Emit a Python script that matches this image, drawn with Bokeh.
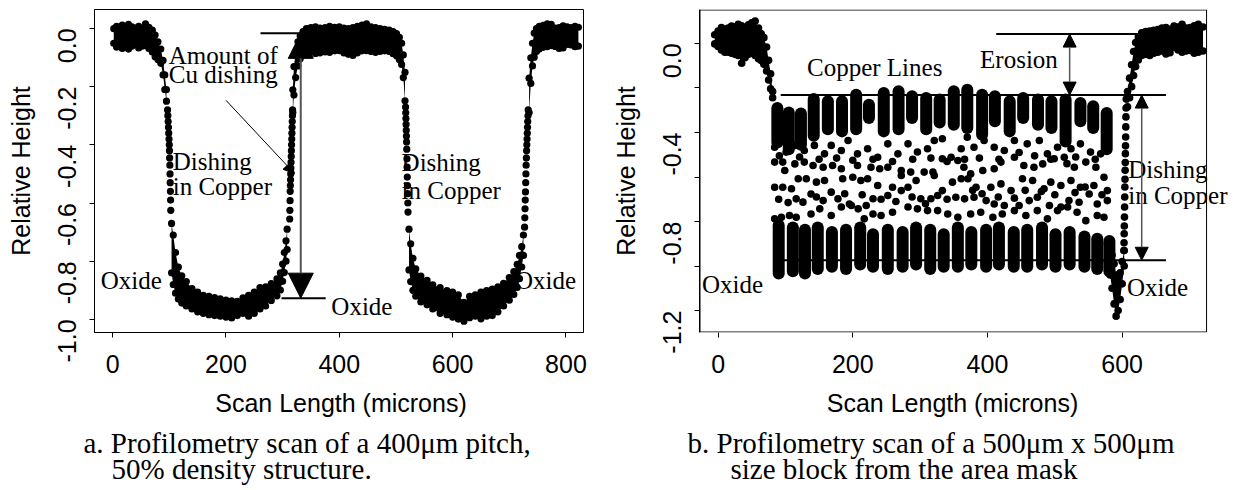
import math
from bokeh.plotting import figure
from bokeh.layouts import row, column
from bokeh.models import Label, Arrow, NormalHead, FixedTicker, PrintfTickFormatter, Range1d, BoxAnnotation
from bokeh.embed import file_html
from bokeh.resources import INLINE

SANS = "Liberation Sans"
SERIF = "Liberation Serif"

# ======================= panel a : 400um pitch, 50% density =======================
a_x_ticks = [0, 200, 400, 600, 800]
a_y_ticks = [0.0, -0.2, -0.4, -0.6, -0.8, -1.0]

# plateau 1 (oxide), dot-centre envelopes
a_p1_x = [2, 7, 12, 17, 22, 28, 34, 40, 46, 52, 58, 64, 70, 75, 80, 85, 89, 92, 95]
a_p1_top = [-0.001, 0.007, 0.003, 0.011, 0.001, 0.014, 0.005, 0.001, 0.007, -0.001, 0.016, 0.004, -0.006, -0.023, -0.046, -0.071, -0.11, -0.16, -0.21]
a_p1_bot = [-0.051, -0.064, -0.059, -0.069, -0.057, -0.071, -0.061, -0.055, -0.067, -0.061, -0.059, -0.069, -0.081, -0.097, -0.107, -0.12, -0.16, -0.21, -0.25]
# wall down into trench 1
a_w1_x = [97, 97.5, 98, 98.5, 99, 99.5, 100, 100.3, 100.6, 101, 101.3, 101.6, 102, 102.3, 102.6]
a_w1_y = [-0.28, -0.30, -0.32, -0.34, -0.36, -0.38, -0.40, -0.42, -0.445, -0.47, -0.50, -0.53, -0.56, -0.59, -0.625]
# trench 1 (copper)
a_t1_x = [104, 107, 111, 116, 122, 130, 140, 150, 160, 170, 180, 190, 200, 210, 220, 230, 240, 250, 260, 270, 280, 290, 296, 300, 303, 306, 308]
a_t1_top = [-0.67, -0.71, -0.77, -0.82, -0.85, -0.87, -0.894, -0.906, -0.917, -0.921, -0.925, -0.929, -0.934, -0.936, -0.938, -0.926, -0.917, -0.906, -0.891, -0.888, -0.877, -0.861, -0.84, -0.81, -0.77, -0.73, -0.69]
a_t1_bot = [-0.84, -0.88, -0.91, -0.93, -0.944, -0.954, -0.964, -0.974, -0.979, -0.984, -0.987, -0.989, -0.992, -0.995, -0.987, -0.979, -0.989, -0.979, -0.964, -0.954, -0.935, -0.919, -0.899, -0.869, -0.839, -0.80, -0.76]
# wall up out of trench 1
a_w2_x = [312.5, 312.8, 313.1, 313.4, 313.7, 314, 314.3, 314.6, 314.9, 315.2, 315.5, 315.8, 316.1, 316.4, 316.7, 317, 317.3, 317.6]
a_w2_y = [-0.655, -0.625, -0.592, -0.56, -0.54, -0.52, -0.50, -0.48, -0.46, -0.44, -0.42, -0.40, -0.38, -0.36, -0.34, -0.32, -0.30, -0.28]
# plateau 2
a_p2_x = [318, 320, 323, 327, 331, 336, 342, 350, 358, 366, 375, 383, 392, 400, 408, 416, 424, 432, 440, 448, 456, 464, 472, 480, 488, 495, 501, 506, 510, 513, 516]
a_p2_top = [-0.211, -0.131, -0.081, -0.046, -0.026, -0.011, -0.001, 0.003, 0.005, 0.001, 0.003, 0.007, 0.004, 0.005, 0.001, -0.001, 0.003, 0.007, 0.011, 0.016, 0.005, 0.003, -0.001, -0.003, -0.006, -0.011, -0.018, -0.031, -0.051, -0.091, -0.151]
a_p2_bot = [-0.289, -0.229, -0.169, -0.129, -0.104, -0.089, -0.076, -0.081, -0.086, -0.084, -0.081, -0.082, -0.077, -0.076, -0.084, -0.089, -0.093, -0.084, -0.077, -0.076, -0.079, -0.082, -0.079, -0.077, -0.079, -0.087, -0.094, -0.107, -0.124, -0.169, -0.249]
# wall down into trench 2
a_w3_x = [517, 517.3, 517.6, 517.9, 518.2, 518.5, 518.8, 519.1, 519.4, 519.7, 520, 520.3, 520.6, 521, 521.3]
a_w3_y = [-0.27, -0.29, -0.31, -0.33, -0.35, -0.37, -0.39, -0.415, -0.448, -0.477, -0.511, -0.54, -0.568, -0.60, -0.631]
# trench 2
a_t2_x = [523, 526, 530, 535, 544, 555, 565, 578, 590, 600, 610, 620, 630, 640, 650, 660, 670, 680, 690, 700, 708, 714, 718, 722, 725]
a_t2_top = [-0.69, -0.74, -0.79, -0.826, -0.851, -0.866, -0.881, -0.891, -0.901, -0.906, -0.916, -0.941, -0.921, -0.916, -0.906, -0.901, -0.896, -0.888, -0.876, -0.856, -0.836, -0.811, -0.78, -0.75, -0.71]
a_t2_bot = [-0.83, -0.87, -0.90, -0.92, -0.94, -0.95, -0.964, -0.979, -0.984, -0.992, -0.999, -1.006, -0.994, -0.989, -0.998, -0.989, -0.987, -0.974, -0.954, -0.934, -0.914, -0.89, -0.86, -0.82, -0.78]
# wall up out of trench 2
a_w4_x = [727, 727.4, 727.8, 728.2, 728.6, 729, 729.4, 729.8, 730.2, 730.6, 731, 731.4, 731.8, 732.2, 732.6, 733, 733.4]
a_w4_y = [-0.683, -0.651, -0.62, -0.59, -0.562, -0.53, -0.50, -0.47, -0.445, -0.42, -0.40, -0.38, -0.36, -0.34, -0.32, -0.30, -0.28]
# plateau 3
a_p3_x = [735, 738, 741, 744, 748, 753, 760, 767, 774, 781, 788, 795, 802, 809, 816, 822]
a_p3_top = [-0.171, -0.101, -0.051, -0.016, -0.001, 0.007, 0.011, 0.016, 0.014, 0.001, 0.003, 0.009, 0.005, 0.003, 0.007, 0.004]
a_p3_bot = [-0.289, -0.189, -0.129, -0.099, -0.079, -0.071, -0.065, -0.063, -0.059, -0.062, -0.069, -0.067, -0.055, -0.057, -0.063, -0.061]

# annotation texts (left edge, baseline)
a_text = ["Amount of", "Cu dishing", "Dishing", "in Copper", "Dishing", "in Copper", "Oxide", "Oxide", "Oxide"]
a_text_x = [99, 99, 106, 106, 510, 510, -21, 386, 710]
a_text_y = [-0.121, -0.189, -0.487, -0.573, -0.490, -0.585, -0.894, -0.986, -0.894]

a_line_x0 = [261, 298]
a_line_x1 = [342, 376]
a_line_y = [-0.017, -0.927]

# ======================= panel b : 500um x 500um block =======================
b_x_ticks = [0, 200, 400, 600]
b_y_major = [0.0, -0.4, -0.8, -1.2]
b_y_minor = [-0.2, -0.6, -1.0]

b_p1_x = [-5, 0, 5, 10, 15, 20, 25, 30, 35, 40, 45, 50, 55, 60, 64, 68, 72, 75, 78, 81]
b_p1_top = [0.039, 0.056, 0.071, 0.063, 0.069, 0.078, 0.074, 0.086, 0.079, 0.071, 0.084, 0.093, 0.101, 0.069, 0.044, 0.026, -0.016, -0.076, -0.136, -0.216]
b_p1_bot = [-0.002, -0.014, -0.029, -0.039, -0.039, -0.044, -0.049, -0.054, -0.089, -0.064, -0.049, -0.044, -0.054, -0.069, -0.077, -0.094, -0.124, -0.164, -0.204, -0.244]

# copper line columns: upper runs and lower runs
b_col_x = [88, 105, 123, 142, 163, 184, 205, 224, 246, 268, 288, 309, 329, 350, 370, 392, 411, 433, 453, 475, 495, 516, 538, 557, 577]
b_up_hi = [-0.29, -0.31, -0.315, -0.25, -0.26, -0.26, -0.23, -0.275, -0.223, -0.215, -0.237, -0.245, -0.252, -0.215, -0.208, -0.23, -0.237, -0.26, -0.245, -0.252, -0.26, -0.252, -0.267, -0.282, -0.312]
b_up_lo = [-0.445, -0.475, -0.455, -0.415, -0.385, -0.395, -0.385, -0.335, -0.395, -0.385, -0.335, -0.385, -0.355, -0.365, -0.38, -0.41, -0.35, -0.395, -0.335, -0.365, -0.38, -0.44, -0.35, -0.38, -0.475]
b_low_x = [90, 111, 129, 148, 169, 190, 211, 230, 252, 274, 294, 315, 335, 356, 376, 398, 417, 439, 459, 481, 501, 522, 544, 563, 581]
b_low_hi = [-0.817, -0.827, -0.837, -0.827, -0.847, -0.837, -0.827, -0.857, -0.837, -0.847, -0.827, -0.837, -0.857, -0.827, -0.847, -0.837, -0.827, -0.847, -0.837, -0.827, -0.857, -0.847, -0.867, -0.877, -0.887]
b_low_lo = [-1.033, -1.023, -1.033, -1.013, -1.003, -1.013, -0.993, -1.003, -1.013, -1.003, -0.993, -1.013, -1.003, -1.003, -0.993, -1.003, -0.993, -1.003, -1.003, -0.993, -1.003, -0.993, -1.003, -1.013, -1.023]

# scattered samples between the line tops and the dished copper
b_mid_x = [84, 101, 114, 128, 143, 158, 168, 183, 193, 207, 222, 237, 252, 267, 282, 296, 311, 321, 333, 346, 361, 370,
           91, 121, 150, 176, 200, 230, 259, 289, 316, 340, 366, 388, 417, 447, 470, 494, 518, 531, 560,
           84, 96, 99, 114, 128, 141, 156, 170, 183, 207, 227, 240, 252, 272, 286, 306, 319, 333, 356, 365,
           84, 96, 109, 119, 131, 146, 158, 185, 200, 212, 222, 237, 259, 272, 282, 294, 321, 333, 348, 361,
           90, 104, 146, 188, 214, 242, 264, 288, 308, 340, 378, 392, 416, 440, 456, 480, 500, 530, 545, 570,
           116, 126, 138, 156, 168, 178, 195, 208, 220, 230, 252, 272, 301, 316, 326, 353, 366,
           84, 94, 106, 116, 138, 151, 168, 183, 198, 217, 230, 242, 259, 282, 296, 311, 326, 341, 356,
           380, 395, 410, 425, 440, 459, 477, 489, 504, 524, 538, 553, 568, 578,
           375, 393, 410, 420, 440, 454, 469, 482, 499, 514, 529, 546, 561, 573,
           371, 383, 405, 420, 435, 452, 467, 484, 494, 509, 524, 538, 558, 578,
           380, 398, 410, 425, 447, 462, 474, 492, 509, 521, 536, 551, 563, 578,
           375, 390, 408, 422, 440, 457, 474, 489, 504, 519, 533, 546, 563, 573]
b_mid_y = [-0.466, -0.488, -0.458, -0.481, -0.458, -0.496, -0.458, -0.481, -0.436, -0.496, -0.473, -0.511, -0.451, -0.496, -0.451, -0.488, -0.473, -0.436, -0.428, -0.511, -0.473, -0.421,
           -0.505, -0.51, -0.52, -0.515, -0.525, -0.52, -0.53, -0.52, -0.515, -0.53, -0.52, -0.515, -0.52, -0.49, -0.505, -0.52, -0.54, -0.51, -0.52,
           -0.533, -0.533, -0.571, -0.541, -0.533, -0.548, -0.556, -0.548, -0.563, -0.548, -0.556, -0.563, -0.556, -0.571, -0.578, -0.578, -0.578, -0.518, -0.526, -0.556,
           -0.646, -0.646, -0.653, -0.608, -0.608, -0.623, -0.616, -0.608, -0.601, -0.616, -0.608, -0.638, -0.646, -0.593, -0.646, -0.616, -0.593, -0.661, -0.623, -0.608,
           -0.70, -0.715, -0.69, -0.675, -0.68, -0.70, -0.71, -0.69, -0.72, -0.70, -0.66, -0.675, -0.69, -0.695, -0.66, -0.665, -0.68, -0.67, -0.645, -0.68,
           -0.698, -0.713, -0.676, -0.706, -0.668, -0.698, -0.721, -0.743, -0.728, -0.698, -0.683, -0.661, -0.698, -0.698, -0.683, -0.691, -0.698,
           -0.788, -0.781, -0.773, -0.781, -0.766, -0.743, -0.773, -0.735, -0.728, -0.788, -0.766, -0.773, -0.758, -0.735, -0.743, -0.751, -0.751, -0.766, -0.781,
           -0.466, -0.436, -0.466, -0.481, -0.436, -0.451, -0.436, -0.496, -0.466, -0.473, -0.451, -0.488, -0.496, -0.466,
           -0.586, -0.571, -0.563, -0.533, -0.511, -0.548, -0.556, -0.541, -0.518, -0.511, -0.556, -0.533, -0.556, -0.601,
           -0.608, -0.646, -0.646, -0.631, -0.661, -0.608, -0.616, -0.653, -0.623, -0.638, -0.616, -0.646, -0.638, -0.661,
           -0.691, -0.706, -0.721, -0.728, -0.728, -0.706, -0.691, -0.728, -0.735, -0.706, -0.713, -0.676, -0.721, -0.706,
           -0.766, -0.758, -0.781, -0.766, -0.751, -0.773, -0.751, -0.788, -0.751, -0.735, -0.758, -0.796, -0.773, -0.781]

# oxide dip at the right edge of the block
b_dip_x = [578, 582, 585, 588, 591, 594, 597, 600, 603]
b_dip_top = [-0.90, -0.92, -0.95, -0.99, -1.04, -1.06, -1.03, -0.98, -0.93]
b_dip_bot = [-0.98, -1.04, -1.10, -1.17, -1.225, -1.20, -1.15, -1.08, -1.00]
# wall up to the field oxide
b_wall_x = [606, 605.8, 605.6, 605.4, 605.2, 605, 604.8, 604.6, 604.4, 604.2, 604, 603.8, 603.6, 603.4, 603.2, 603, 602.8, 602.6]
b_wall_y = [-0.25, -0.29, -0.33, -0.375, -0.42, -0.46, -0.495, -0.535, -0.57, -0.61, -0.645, -0.69, -0.735, -0.78, -0.82, -0.855, -0.895, -0.93]
# right field oxide
b_p2_x = [608, 611, 614, 617, 620, 624, 629, 635, 641, 647, 653, 659, 665, 671, 677, 683, 689, 695, 701, 707, 713, 720]
b_p2_top = [-0.216, -0.156, -0.096, -0.036, 0.004, 0.029, 0.048, 0.054, 0.056, 0.059, 0.063, 0.069, 0.071, 0.064, 0.078, 0.074, 0.086, 0.069, 0.071, 0.079, 0.086, 0.074]
b_p2_bot = [-0.284, -0.244, -0.194, -0.144, -0.104, -0.074, -0.054, -0.049, -0.054, -0.044, -0.039, -0.034, -0.047, -0.042, -0.017, -0.029, -0.039, -0.034, -0.032, -0.044, -0.039, -0.034]

b_text = ["Copper Lines", "Erosion", "Dishing", "in Copper", "Oxide", "Oxide"]
b_text_x = [132, 389, 609, 609, -24, 607]
b_text_y = [-0.145, -0.108, -0.602, -0.722, -1.119, -1.134]

b_line_x0 = [413, 93, 93]
b_line_x1 = [640, 665, 665]
b_line_y = [0.042, -0.232, -0.974]

x_title = "Scan Length (microns)"
y_title = "Relative Height"
captions_a = ["a. Profilometry scan of a 400\u03bcm pitch,", "50% density structure."]
captions_b = ["b. Profilometry scan of a 500\u03bcm x 500\u03bcm", "size block from the area mask"]

# ======================= layout geometry (picture pixels) =======================
SPLIT = 386                 # y where the caption strip starts
TOP_H = SPLIT
CAP_H = 103
A_W, B_W = 608, 630
A_FR = (94, 9, 489, 323)    # frame left, top, width, height
B_BOX_W = 508               # width of the drawn box of panel b
B_FR = (698, 9, A_W + B_W - 698, 323)   # frame of b reaches the canvas edge
A_XR, A_YR = (-32.0, 831.0), (-1.045, 0.065)
B_XBOX, B_YR = (-27.6, 725.3), (-1.2985, 0.1525)
B_XR = (B_XBOX[0], B_XBOX[0] + B_FR[2] * (B_XBOX[1] - B_XBOX[0]) / B_BOX_W)

SERIF_MID = 0.3375   # (ascent - descent) / 2, in em, Liberation Serif
SANS_MID = 0.3465    # same for Liberation Sans


def make_fig(width, canvas_left, fr, xr, yr, xticks, ymaj, ymin):
    bl = fr[0] - canvas_left
    br = width - bl - fr[2]
    bt = fr[1]
    bb = TOP_H - bt - fr[3]
    p = figure(width=width, height=TOP_H, x_range=Range1d(*xr), y_range=Range1d(*yr),
               output_backend="svg", toolbar_location=None,
               min_border_left=bl, min_border_right=br, min_border_top=bt, min_border_bottom=bb,
               background_fill_color="white", border_fill_color="white")
    p.xgrid.visible = False
    p.ygrid.visible = False
    p.outline_line_color = "black"
    p.outline_line_width = 1
    p.xaxis.ticker = FixedTicker(ticks=xticks)
    p.yaxis.ticker = FixedTicker(ticks=ymaj, minor_ticks=ymin)
    p.yaxis.formatter = PrintfTickFormatter(format="%.1f")
    p.yaxis.axis_label = y_title
    for ax in list(p.xaxis) + list(p.yaxis):
        ax.axis_line_color = "black"
        ax.axis_line_width = 1
        ax.major_tick_line_color = "black"
        ax.major_tick_out = 5
        ax.major_tick_in = 0
        ax.minor_tick_line_color = "black"
        ax.minor_tick_out = 5
        ax.minor_tick_in = 0
        ax.major_label_text_font = SANS
        ax.major_label_text_font_size = "25px"
        ax.major_label_text_color = "black"
        ax.axis_label_text_font = SANS
        ax.axis_label_text_font_size = "25px"
        ax.axis_label_text_font_style = "normal"
        ax.axis_label_text_color = "black"
    p.xaxis.major_label_standoff = 17
    p.yaxis.major_label_standoff = 22
    p.yaxis.axis_label_standoff = 12
    p.yaxis.major_label_orientation = math.pi / 2
    if not ymin:
        p.yaxis.minor_tick_line_color = None
    p.xaxis.minor_tick_line_color = None
    return p


def caption_fig(width, canvas_left, title_cx, lines, positions):
    c = figure(width=width, height=CAP_H, x_range=Range1d(canvas_left, canvas_left + width),
               y_range=Range1d(SPLIT + CAP_H, SPLIT), output_backend="svg", toolbar_location=None,
               x_axis_location=None, y_axis_location=None,
               min_border_left=0, min_border_right=0, min_border_top=0, min_border_bottom=0,
               background_fill_color="white", border_fill_color="white")
    c.outline_line_color = None
    for g in c.grid:
        g.visible = False
    c.add_layout(Label(x=title_cx, y=411 - SANS_MID * 25, text=x_title, text_font=SANS,
                       text_font_size="25px", text_color="black", text_align="center",
                       text_baseline="middle"))
    for t, (px, py) in zip(lines, positions):
        c.add_layout(Label(x=px, y=py - SERIF_MID * 29, text=t, text_font=SERIF, text_font_size="29px",
                           text_color="black", text_align="left", text_baseline="middle"))
    return c


def add_texts(p, fr, yr, texts, xs, ys):
    per_px = (yr[1] - yr[0]) / fr[3]
    for t, x, y in zip(texts, xs, ys):
        p.add_layout(Label(x=x, y=y + SERIF_MID * 25 * per_px, text=t, text_font=SERIF,
                           text_font_size="25px", text_color="black", text_align="left",
                           text_baseline="middle", level="underlay"))


def band(p, xs, top, bot, size):
    p.varea(x=xs, y1=top, y2=bot, fill_color="black")
    p.scatter(xs + xs, top + bot, size=size, marker="circle", fill_color="black", line_color=None)


def dots(p, xs, ys, size):
    p.scatter(xs, ys, size=size, marker="circle", fill_color="black", line_color=None)


# ---------------- panel a ----------------
pa = make_fig(A_W, 0, A_FR, A_XR, A_YR, a_x_ticks, a_y_ticks, [])
add_texts(pa, A_FR, A_YR, a_text, a_text_x, a_text_y)
DA = 7.2
band(pa, a_p1_x, a_p1_top, a_p1_bot, DA)
dots(pa, a_w1_x, a_w1_y, DA)
band(pa, a_t1_x, a_t1_top, a_t1_bot, DA)
dots(pa, a_w2_x, a_w2_y, DA)
band(pa, a_p2_x, a_p2_top, a_p2_bot, DA)
dots(pa, a_w3_x, a_w3_y, DA)
band(pa, a_t2_x, a_t2_top, a_t2_bot, DA)
dots(pa, a_w4_x, a_w4_y, DA)
band(pa, a_p3_x, a_p3_top, a_p3_bot, DA)
pa.segment(x0=a_line_x0, y0=a_line_y, x1=a_line_x1, y1=a_line_y, line_color="black", line_width=2)
pa.add_layout(Arrow(start=NormalHead(size=25, fill_color="black", line_color="black"),
                    end=NormalHead(size=25, fill_color="black", line_color="black"),
                    x_start=332, y_start=a_line_y[0], x_end=332, y_end=a_line_y[1],
                    line_color="#555555", line_width=2))
pa.add_layout(Arrow(end=NormalHead(size=11, fill_color="black", line_color="black"),
                    x_start=200, y_start=-0.247, x_end=321, y_end=-0.499,
                    line_color="black", line_width=1))

# ---------------- panel b ----------------
pb = make_fig(B_W, A_W, B_FR, B_XR, B_YR, b_x_ticks, b_y_major, b_y_minor)
pb.outline_line_color = None
pb.xaxis.axis_line_color = None
b_px_x = (B_XBOX[1] - B_XBOX[0]) / B_BOX_W
b_px_y = (B_YR[1] - B_YR[0]) / B_FR[3]
pb.add_layout(BoxAnnotation(left=B_XBOX[0] + 0.5 * b_px_x, right=B_XBOX[1],
                            bottom=B_YR[0] + 0.5 * b_px_y, top=B_YR[1] - 0.5 * b_px_y,
                            fill_color=None, fill_alpha=0, line_color="black", line_alpha=1,
                            line_width=1))
add_texts(pb, B_FR, B_YR, b_text, b_text_x, b_text_y)
DB = 7.6
band(pb, b_p1_x, b_p1_top, b_p1_bot, DB)
pb.segment(x0=b_col_x, y0=b_up_hi, x1=b_col_x, y1=b_up_lo, line_color="black", line_width=12, line_cap="round")
pb.segment(x0=b_low_x, y0=b_low_hi, x1=b_low_x, y1=b_low_lo, line_color="black", line_width=12, line_cap="round")
dots(pb, b_mid_x, b_mid_y, DB)
band(pb, b_dip_x, b_dip_top, b_dip_bot, DB)
dots(pb, b_wall_x, b_wall_y, DB)
band(pb, b_p2_x, b_p2_top, b_p2_bot, DB)
pb.segment(x0=b_line_x0, y0=b_line_y, x1=b_line_x1, y1=b_line_y, line_color="black", line_width=2)
for ax_x, y0, y1 in [(522, b_line_y[0], b_line_y[1]), (629, b_line_y[1], b_line_y[2])]:
    pb.add_layout(Arrow(start=NormalHead(size=13, fill_color="black", line_color="black"),
                        end=NormalHead(size=13, fill_color="black", line_color="black"),
                        x_start=ax_x, y_start=y0, x_end=ax_x, y_end=y1,
                        line_color="#555555", line_width=1.5))

# ---------------- axis titles and captions ----------------
ca = caption_fig(A_W, 0, 340.5, captions_a, [(83, 452), (111, 478)])
cb = caption_fig(B_W, A_W, 952, captions_b, [(687, 452), (730, 478)])

layout = column(row(pa, pb), row(ca, cb))
open("out.html", "w").write(file_html(layout, INLINE))
